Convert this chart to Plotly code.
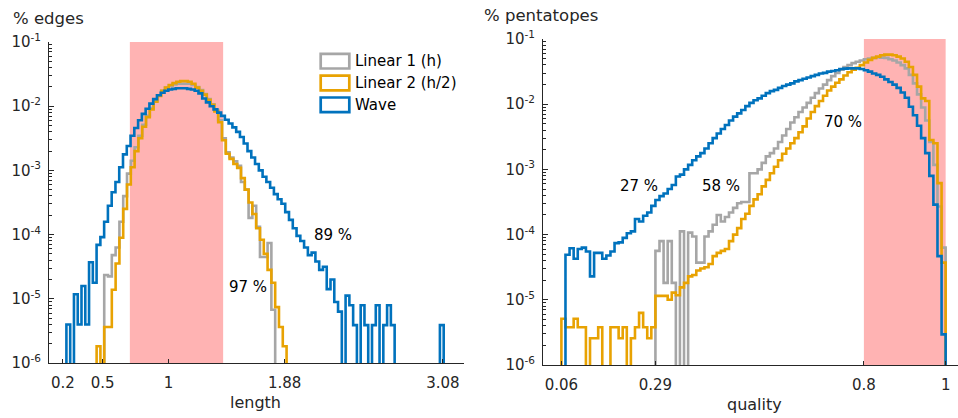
import numpy as np
import plotly.graph_objects as go

# ---------------- data ----------------
# Histograms are given as log10(fraction) per bin; None = empty bin.
series_names = ["Linear 1 (h)", "Linear 2 (h/2)", "Wave"]
series_colors = ["#A6A6A6", "#E8A202", "#0072BD"]

# Left panel: edge length
len_wave_range = (0.226, 3.086)
len_wave_log10 = [
    -5.40, None, -4.93, -5.40, -4.80, -5.40, -4.43, -4.75, -4.16, -4.04,
    -3.80, -3.55, -3.34, -3.18, -2.95, -2.75, -2.62, -2.46, -2.34, -2.22,
    -2.12, -2.04, -1.96, -1.89, -1.83, -1.79, -1.76, -1.74, -1.73, -1.72,
    -1.72, -1.72, -1.73, -1.74, -1.76, -1.80, -1.88, -1.94, -2.00, -2.05,
    -2.10, -2.15, -2.21, -2.27, -2.33, -2.40, -2.48, -2.58, -2.70, -2.80,
    -2.90, -3.00, -3.10, -3.18, -3.27, -3.37, -3.45, -3.52, -3.65, -3.77,
    -3.90, -4.02, -4.10, -4.20, -4.32, -4.28, -4.42, -4.55, -4.50, -4.85,
    -4.70, -5.05, -5.20, None, -4.95, -5.10, -5.41, None, -5.10, -5.41,
    None, -5.41, -5.10, None, -5.41, -5.10, -5.41, None, None, None,
    None, None, None, None, None, None, None, None, None, -5.41,
]
len_linear_range = (0.455, 1.895)
len_linear1_log10 = [
    None, None, -4.63, -4.65, -4.32, -4.20, -3.80, -3.40, -3.05, -2.85,
    -2.64, -2.46, -2.29, -2.15, -2.03, -1.92, -1.83, -1.76, -1.71, -1.68,
    -1.66, -1.65, -1.65, -1.65, -1.65, -1.67, -1.70, -1.75, -1.81, -1.89,
    -1.97, -2.06, -2.22, -2.50, -2.72, -2.80, -2.86, -2.93, -3.18, -3.30,
    -3.74, -3.55, -3.88, -4.35, -4.35, -4.13, -5.17, None, None, None,
]
len_linear2_log10 = [
    -5.74, None, -5.44, -5.44, -4.86, -4.45, -4.05, -3.60, -3.22, -2.95,
    -2.70, -2.50, -2.32, -2.17, -2.05, -1.93, -1.84, -1.76, -1.71, -1.67,
    -1.64, -1.62, -1.61, -1.61, -1.62, -1.65, -1.71, -1.76, -1.82, -1.90,
    -1.98, -2.08, -2.25, -2.53, -2.74, -2.82, -2.90, -2.96, -3.12, -3.30,
    -3.50, -3.68, -3.90, -4.08, -4.30, -4.55, -4.75, -5.13, -5.44, -5.74,
]

# Right panel: pentatope quality
qual_range = (0.06, 1.0)
qual_linear1_log10 = [None] * 23 + [
    -4.25, -4.10, -4.74, -4.10, -4.74, None, -3.95,
    None, -3.97, -4.03, -4.43, -4.43, -4.03, -3.95, -3.85, -3.70, -3.80,
    -3.73, -3.66, -3.59, -3.52, -3.50, -3.50, -3.06, -3.06, -3.00, -2.90,
    -2.80, -2.75, -2.68, -2.58, -2.48, -2.38, -2.28, -2.20, -2.12, -2.05,
    -1.98, -1.90, -1.83, -1.76, -1.70, -1.63, -1.57, -1.52, -1.47, -1.43,
    -1.40, -1.37, -1.35, -1.33, -1.31, -1.30, -1.29, -1.28, -1.285, -1.29,
    -1.31, -1.33, -1.36, -1.40, -1.45, -1.55, -1.68, -1.85, -2.05, -2.25,
    -2.58, -2.93, -3.57, -4.20,
]
qual_linear2_log10 = [
    -5.29, -5.42, -5.42, -5.29, -5.42, -5.42, None, -5.59, -5.59, -5.42,
    None, None, -5.42, -5.42, -5.59, -5.42, None, -5.59, -5.42, -5.20,
    -5.42, -5.59, -5.42, -4.94, -4.94, -4.94, -5.00, -4.89, -4.93, -4.81,
    -4.74, -4.64, -4.62, -4.55, -4.52, -4.50, -4.45, -4.33, -4.28, -4.25,
    -4.22, -4.10, -4.00, -3.90, -3.76, -3.68, -3.56, -3.46, -3.38, -3.26,
    -3.16, -3.06, -2.96, -2.86, -2.76, -2.68, -2.60, -2.52, -2.43, -2.34,
    -2.22, -2.12, -2.03, -1.95, -1.87, -1.79, -1.73, -1.67, -1.62, -1.56,
    -1.51, -1.47, -1.44, -1.40, -1.36, -1.32, -1.29, -1.27, -1.25, -1.24,
    -1.24, -1.25, -1.27, -1.30, -1.35, -1.43, -1.55, -1.73, -1.91, -1.95,
    -2.55, -2.60, -3.21, -4.43,
]
qual_wave_log10 = [
    None, -4.31, -4.21, -4.37, -4.22, -4.20, -4.26, -4.64, -4.28, -4.28,
    -4.37, -4.32, -4.26, -4.13, -4.12, -4.05, -3.98, -3.95, -3.76, -3.80,
    -3.71, -3.66, -3.56, -3.47, -3.41, -3.37, -3.30, -3.24, -3.11, -3.08,
    -3.00, -2.93, -2.86, -2.80, -2.75, -2.68, -2.60, -2.52, -2.45, -2.38,
    -2.32, -2.25, -2.19, -2.14, -2.09, -2.03, -1.98, -1.94, -1.91, -1.87,
    -1.83, -1.80, -1.78, -1.75, -1.72, -1.70, -1.68, -1.65, -1.63, -1.61,
    -1.59, -1.57, -1.55, -1.53, -1.52, -1.50, -1.49, -1.48, -1.46, -1.455,
    -1.45, -1.45, -1.45, -1.46, -1.48, -1.50, -1.53, -1.55, -1.58, -1.62,
    -1.66, -1.70, -1.75, -1.82, -1.90, -2.04, -2.17, -2.33, -2.52, -2.75,
    -3.10, -3.54, -4.33, -5.53,
]

length_ticks = [0.2, 0.5, 1, 1.88, 3.08]
length_ticktext = ["0.2", "0.5", "1", "1.88", "3.08"]
quality_ticks = [0.06, 0.29, 0.8, 1]
quality_ticktext = ["0.06", "0.29", "0.8", "1"]
y_decades = [-6, -5, -4, -3, -2, -1]
length_band = [0.707, 1.414]
quality_band = [0.8, 1.0]
edge_labels = [("97 %", 1.60, 1.53e-5), ("89 %", 2.25, 9.9e-5)]
quality_labels = [("27 %", 0.250, 5.6e-4), ("58 %", 0.450, 5.6e-4), ("70 %", 0.748, 5.36e-3)]

# ---------------- helpers ----------------
W, H = 958, 418
FLOOR = 1e-9
FONT = "DejaVu Sans"
TXT = "#262626"


def px(x):
    return x / W


def py(y):
    return 1 - y / H


def stairs(rng, logvals):
    n = len(logvals)
    edges = np.linspace(rng[0], rng[1], n + 1)
    v = [FLOOR if l is None else 10.0 ** l for l in logvals]
    x = [edges[0]] + list(edges[:-1]) + [edges[-1], edges[-1]]
    y = [FLOOR] + v + [v[-1], FLOOR]
    return x, y


fig = go.Figure()

left_sets = [(len_linear_range, len_linear1_log10), (len_linear_range, len_linear2_log10),
             (len_wave_range, len_wave_log10)]
right_sets = [(qual_range, qual_linear1_log10), (qual_range, qual_linear2_log10),
              (qual_range, qual_wave_log10)]

for i, (rng, vals) in enumerate(left_sets):
    x, y = stairs(rng, vals)
    fig.add_trace(go.Scatter(x=x, y=y, mode="lines", line=dict(color=series_colors[i], width=2.6, shape="hv"),
                             name=series_names[i], showlegend=False, xaxis="x", yaxis="y"))
for i, (rng, vals) in enumerate(right_sets):
    x, y = stairs(rng, vals)
    fig.add_trace(go.Scatter(x=x, y=y, mode="lines", line=dict(color=series_colors[i], width=2.6, shape="hv"),
                             name=series_names[i], showlegend=False, xaxis="x2", yaxis="y2"))

minor_vals = [k * 10.0 ** e for e in range(-6, -1) for k in range(2, 10)]
ytext = ["10<sup>%d</sup>" % e for e in y_decades]


def yaxis_cfg(domain, anchor):
    return dict(type="log", domain=domain, range=[-6, -1], tickmode="array", anchor=anchor,
                tickvals=[10.0 ** e for e in y_decades], ticktext=ytext, automargin=False,
                ticks="inside", ticklen=5, tickwidth=1, tickcolor=TXT,
                showline=True, linecolor=TXT, linewidth=1, showgrid=False, zeroline=False,
                tickfont=dict(family=FONT, size=15, color=TXT), ticklabelstandoff=4,
                minor=dict(tickmode="array", tickvals=minor_vals, ticks="inside", ticklen=3,
                           tickcolor=TXT, showgrid=False))


def xaxis_cfg(domain, rng, tv, tt, anchor):
    return dict(domain=domain, range=rng, tickmode="array", tickvals=tv, ticktext=tt,
                ticks="inside", ticklen=4, tickwidth=1, tickcolor=TXT, anchor=anchor, automargin=False,
                showline=True, linecolor=TXT, linewidth=1, showgrid=False, zeroline=False,
                tickfont=dict(family=FONT, size=15, color=TXT), ticklabelstandoff=6)


shapes = [
    dict(type="rect", xref="x", yref="y domain", x0=length_band[0], x1=length_band[1], y0=0, y1=1,
         fillcolor="#FFB3B3", line=dict(width=0), layer="below"),
    dict(type="rect", xref="x2", yref="y2 domain", x0=quality_band[0], x1=quality_band[1], y0=0, y1=1,
         fillcolor="#FFB3B3", line=dict(width=0), layer="below"),
]

annotations = []
# legend (box symbols like MATLAB stairs legend)
leg_rows = [61.2, 83.0, 104.8]
for i, name in enumerate(series_names):
    yc = leg_rows[i]
    shapes.append(dict(type="rect", xref="paper", yref="paper", x0=px(320.7), x1=px(349.3),
                       y0=py(yc - 7.3), y1=py(yc + 7.3), fillcolor="white",
                       line=dict(color=series_colors[i], width=2.7)))
    annotations.append(dict(text=name, xref="paper", yref="paper", x=px(352.5), y=py(yc),
                            xanchor="left", yanchor="middle", showarrow=False,
                            font=dict(family=FONT, size=15, color="black")))

for t, xv, yv in edge_labels:
    annotations.append(dict(text=t, xref="x", yref="y", x=xv, y=np.log10(yv), showarrow=False,
                            xanchor="center", yanchor="middle", font=dict(family=FONT, size=15, color="black")))
for t, xv, yv in quality_labels:
    annotations.append(dict(text=t, xref="x2", yref="y2", x=xv, y=np.log10(yv), showarrow=False,
                            xanchor="center", yanchor="middle", font=dict(family=FONT, size=15, color="black")))

# axis titles / labels
annotations += [
    dict(text="% edges", xref="paper", yref="paper", x=px(11), y=py(18.5), xanchor="left", yanchor="middle",
         showarrow=False, font=dict(family=FONT, size=16.5, color=TXT)),
    dict(text="% pentatopes", xref="paper", yref="paper", x=px(482), y=py(16), xanchor="left",
         yanchor="middle", showarrow=False, font=dict(family=FONT, size=16.5, color=TXT)),
    dict(text="length", xref="paper", yref="paper", x=px(256), y=py(402), xanchor="center",
         yanchor="middle", showarrow=False, font=dict(family=FONT, size=16, color=TXT)),
    dict(text="quality", xref="paper", yref="paper", x=px(754), y=py(404), xanchor="center",
         yanchor="middle", showarrow=False, font=dict(family=FONT, size=16, color=TXT)),
]

fig.update_layout(
    width=W, height=H, autosize=False,
    margin=dict(l=0, r=0, t=0, b=0, pad=0, autoexpand=False),
    paper_bgcolor="white", plot_bgcolor="white", showlegend=False,
    title=dict(text=""),
    xaxis=xaxis_cfg([px(49), px(464)], [0.094, 3.24], length_ticks, length_ticktext, "y"),
    yaxis=yaxis_cfg([py(363), py(42)], "x"),
    xaxis2=xaxis_cfg([px(543), 1.0], [0.015, 1.0302], quality_ticks, quality_ticktext, "y2"),
    yaxis2=yaxis_cfg([py(365), py(39)], "x2"),
    shapes=shapes, annotations=annotations,
)

fig.write_html(
    "out.html",
    config={"responsive": False, "displayModeBar": False},
    post_script="document.body.style.margin='0';document.body.style.padding='0';"
                "document.documentElement.style.overflow='hidden';",
)
